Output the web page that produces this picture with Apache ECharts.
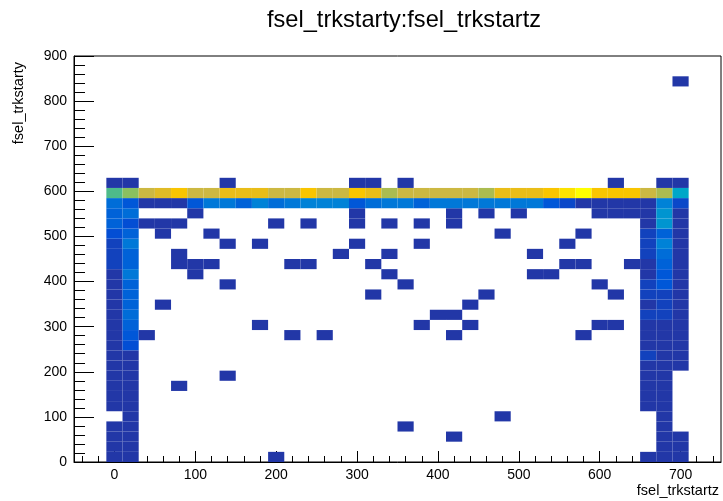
<!DOCTYPE html>
<html><head><meta charset="utf-8">
<script src="https://cdn.jsdelivr.net/npm/echarts@6/dist/echarts.min.js"></script>
<style>html,body{margin:0;padding:0;background:#fff}#c{width:723px;height:501px}</style>
</head><body><div id="c"></div>
<script>
// Histogram binning (data domain)
const xBinMin = -50, xBinMax = 750, xBinCount = 40;
const yBinMin = 0, yBinMax = 900, yBinCount = 40;
const xTickValues = [0, 100, 200, 300, 400, 500, 600, 700];
const xMinorTickValues = [-40,-20,0,20,40,60,80,100,120,140,160,180,200,220,240,260,280,300,320,340,360,380,400,420,440,460,480,500,520,540,560,580,600,620,640,660,680,700,720,740];
const titleText = 'fsel_trkstarty:fsel_trkstartz';
const xTitle = 'fsel_trkstartz';
const yTitle = 'fsel_trkstarty';

// Bin contents, one array per y bin (index = x bin, 40 bins)
const row00 = [0,0,1,1,0,0,0,0,0,0, 0,0,1,0,0,0,0,0,0,0, 0,0,0,0,0,0,0,0,0,0, 0,0,0,0,0,1,1,1,0,0];
const row01 = [0,0,1,1,0,0,0,0,0,0, 0,0,0,0,0,0,0,0,0,0, 0,0,0,0,0,0,0,0,0,0, 0,0,0,0,0,0,1,1,0,0];
const row02 = [0,0,1,1,0,0,0,0,0,0, 0,0,0,0,0,0,0,0,0,0, 0,0,0,1,0,0,0,0,0,0, 0,0,0,0,0,0,1,1,0,0];
const row03 = [0,0,1,1,0,0,0,0,0,0, 0,0,0,0,0,0,0,0,0,0, 1,0,0,0,0,0,0,0,0,0, 0,0,0,0,0,0,1,0,0,0];
const row04 = [0,0,0,1,0,0,0,0,0,0, 0,0,0,0,0,0,0,0,0,0, 0,0,0,0,0,0,1,0,0,0, 0,0,0,0,0,0,1,0,0,0];
const row05 = [0,0,1,1,0,0,0,0,0,0, 0,0,0,0,0,0,0,0,0,0, 0,0,0,0,0,0,0,0,0,0, 0,0,0,0,0,1,1,0,0,0];
const row06 = [0,0,1,1,0,0,0,0,0,0, 0,0,0,0,0,0,0,0,0,0, 0,0,0,0,0,0,0,0,0,0, 0,0,0,0,0,1,1,0,0,0];
const row07 = [0,0,1,1,0,0,1,0,0,0, 0,0,0,0,0,0,0,0,0,0, 0,0,0,0,0,0,0,0,0,0, 0,0,0,0,0,1,1,0,0,0];
const row08 = [0,0,1,1,0,0,0,0,0,1, 0,0,0,0,0,0,0,0,0,0, 0,0,0,0,0,0,0,0,0,0, 0,0,0,0,0,1,1,0,0,0];
const row09 = [0,0,1,1,0,0,0,0,0,0, 0,0,0,0,0,0,0,0,0,0, 0,0,0,0,0,0,0,0,0,0, 0,0,0,0,0,1,1,1,0,0];
const row10 = [0,0,1,1,0,0,0,0,0,0, 0,0,0,0,0,0,0,0,0,0, 0,0,0,0,0,0,0,0,0,0, 0,0,0,0,0,3,1,1,0,0];
const row11 = [0,0,1,5,0,0,0,0,0,0, 0,0,0,0,0,0,0,0,0,0, 0,0,0,0,0,0,0,0,0,0, 0,0,0,0,0,1,1,1,0,0];
const row12 = [0,0,1,6,1,0,0,0,0,0, 0,0,0,1,0,1,0,0,0,0, 0,0,0,1,0,0,0,0,0,0, 0,1,0,0,0,1,1,1,0,0];
const row13 = [0,0,1,7,0,0,0,0,0,0, 0,1,0,0,0,0,0,0,0,0, 0,1,0,0,1,0,0,0,0,0, 0,0,1,1,0,1,1,1,0,0];
const row14 = [0,0,1,8,0,0,0,0,0,0, 0,0,0,0,0,0,0,0,0,0, 0,0,1,1,0,0,0,0,0,0, 0,0,0,0,0,3,3,1,0,0];
const row15 = [0,0,1,7,0,1,0,0,0,0, 0,0,0,0,0,0,0,0,0,0, 0,0,0,0,1,0,0,0,0,0, 0,0,0,0,0,1,3,1,0,0];
const row16 = [0,0,1,7,0,0,0,0,0,0, 0,0,0,0,0,0,0,0,1,0, 0,0,0,0,0,1,0,0,0,0, 0,0,0,1,0,3,3,1,0,0];
const row17 = [0,0,1,7,0,0,0,0,0,1, 0,0,0,0,0,0,0,0,0,0, 1,0,0,0,0,0,0,0,0,0, 0,0,1,0,0,3,6,1,0,0];
const row18 = [0,0,1,9,0,0,0,1,0,0, 0,0,0,0,0,0,0,0,0,1, 0,0,0,0,0,0,0,0,1,1, 0,0,0,0,0,1,6,1,0,0];
const row19 = [0,0,3,7,0,0,1,1,1,0, 0,0,0,1,1,0,0,0,1,0, 0,0,0,0,0,0,0,0,0,0, 1,1,0,0,1,1,7,1,0,0];
const row20 = [0,0,3,7,0,0,1,0,0,0, 0,0,0,0,0,0,1,0,0,1, 0,0,0,0,0,0,0,0,1,0, 0,0,0,0,0,3,8,1,0,0];
const row21 = [0,0,3,9,0,0,0,0,0,1, 0,1,0,0,0,0,0,1,0,0, 0,1,0,0,0,0,0,0,0,0, 1,0,0,0,0,3,10,1,0,0];
const row22 = [0,0,5,7,0,1,0,0,1,0, 0,0,0,0,0,0,0,0,0,0, 0,0,0,0,0,0,1,0,0,0, 0,1,0,0,0,3,7,1,0,0];
const row23 = [0,0,7,5,1,1,1,0,0,0, 0,0,1,0,1,0,0,1,0,1, 0,1,0,1,0,0,0,0,0,0, 0,0,0,0,0,1,12,1,0,0];
const row24 = [0,0,7,8,0,0,0,1,0,0, 0,0,0,0,0,0,0,1,0,0, 0,0,0,1,0,1,0,1,0,0, 0,0,1,1,1,1,12,1,0,0];
const row25 = [0,0,8,6,1,1,1,6,9,9, 7,10,8,9,10,10,10,6,8,9, 9,7,9,9,9,9,9,9,9,6, 4,1,1,1,1,1,10,4,0,0];
const row26 = [0,0,20,23,27,29,32,27,27,30, 30,30,27,27,32,27,27,32,30,25, 27,27,27,27,27,25,30,30,30,32, 34,36,32,32,32,27,25,14,0,0];
const row27 = [0,0,1,1,0,0,0,0,0,1, 0,0,0,0,0,0,0,1,1,0, 1,0,0,0,0,0,0,0,0,0, 0,0,0,1,0,0,1,1,0,0];
const row37 = [0,0,0,0,0,0,0,0,0,0, 0,0,0,0,0,0,0,0,0,0, 0,0,0,0,0,0,0,0,0,0, 0,0,0,0,0,0,0,1,0,0];

const rowsByYBin = {
  0: row00, 1: row01, 2: row02, 3: row03, 4: row04, 5: row05, 6: row06, 7: row07,
  8: row08, 9: row09, 10: row10, 11: row11, 12: row12, 13: row13, 14: row14,
  15: row15, 16: row16, 17: row17, 18: row18, 19: row19, 20: row20, 21: row21,
  22: row22, 23: row23, 24: row24, 25: row25, 26: row26, 27: row27, 37: row37
};

const xw = (xBinMax - xBinMin) / xBinCount;
const yw = (yBinMax - yBinMin) / yBinCount;
const cells = [];
let maxCount = 0;
Object.keys(rowsByYBin).forEach(function (k) {
  const j = +k;
  rowsByYBin[k].forEach(function (c, i) {
    if (c > 0) {
      cells.push([xBinMin + i * xw, xBinMin + (i + 1) * xw, yBinMin + j * yw, yBinMin + (j + 1) * yw, c]);
      if (c > maxCount) maxCount = c;
    }
  });
});

const FONT = '"Liberation Sans", Arial, Helvetica, sans-serif';
const chart = echarts.init(document.getElementById('c'), null, { renderer: 'canvas' });
chart.setOption({
  animation: false,
  backgroundColor: '#ffffff',
  grid: { left: 74, right: 2, top: 56, bottom: 39, show: true, borderColor: '#000', borderWidth: 1, backgroundColor: 'transparent' },
  xAxis: [{
    type: 'value', min: xBinMin, max: xBinMax, position: 'bottom',
    axisLine: { show: true, onZero: false, lineStyle: { color: '#000', width: 1 } },
    axisTick: { show: true, inside: true, length: 11, customValues: xTickValues, lineStyle: { color: '#000' } },
    axisLabel: { show: true, customValues: xTickValues, color: '#000', fontFamily: FONT, fontSize: 14, margin: 6 },
    splitLine: { show: false }
  }, {
    type: 'value', min: xBinMin, max: xBinMax, position: 'bottom',
    axisLine: { show: false, onZero: false },
    axisTick: { show: true, inside: true, length: 6, customValues: xMinorTickValues, lineStyle: { color: '#000' } },
    axisLabel: { show: false },
    splitLine: { show: false }
  }],
  yAxis: {
    type: 'value', min: yBinMin, max: yBinMax, interval: 100, position: 'left',
    axisLine: { show: true, onZero: false, lineStyle: { color: '#000', width: 1 } },
    axisTick: { show: true, inside: true, length: 20, lineStyle: { color: '#000' } },
    minorTick: { show: true, splitNumber: 5, length: 11, lineStyle: { color: '#000' } },
    axisLabel: { color: '#000', fontFamily: FONT, fontSize: 14, margin: 7 },
    splitLine: { show: false }, minorSplitLine: { show: false }
  },
  visualMap: {
    show: false, type: 'continuous', dimension: 4, seriesIndex: 0,
    min: 1, max: maxCount,
    inRange: { color: ['#2237a7', '#0050d8', '#0080d8', '#00a8c8', '#30b8a0', '#88c060', '#d0b840', '#f8c000', '#ffff00'] }
  },
  series: [{
    type: 'custom', xAxisIndex: 0, yAxisIndex: 0,
    encode: { x: [0, 1], y: [2, 3] },
    data: cells,
    renderItem: function (params, api) {
      const p0 = api.coord([api.value(0), api.value(3)]);
      const p1 = api.coord([api.value(1), api.value(2)]);
      return { type: 'rect', shape: { x: p0[0], y: p0[1], width: p1[0] - p0[0], height: p1[1] - p0[1] }, style: { fill: api.visual('color') } };
    }
  }],
  graphic: [
    { type: 'text', left: 267, top: 8, style: { text: titleText, font: '23.6px ' + FONT, fill: '#000' } },
    { type: 'text', x: 719, y: 491, style: { text: xTitle, font: '14.5px ' + FONT, fill: '#000', textAlign: 'right', textVerticalAlign: 'middle' } },
    { type: 'text', x: 19, y: 62, rotation: Math.PI / 2, style: { text: yTitle, font: '14.5px ' + FONT, fill: '#000', textAlign: 'right', textVerticalAlign: 'middle' } }
  ]
});
</script>
</body></html>
